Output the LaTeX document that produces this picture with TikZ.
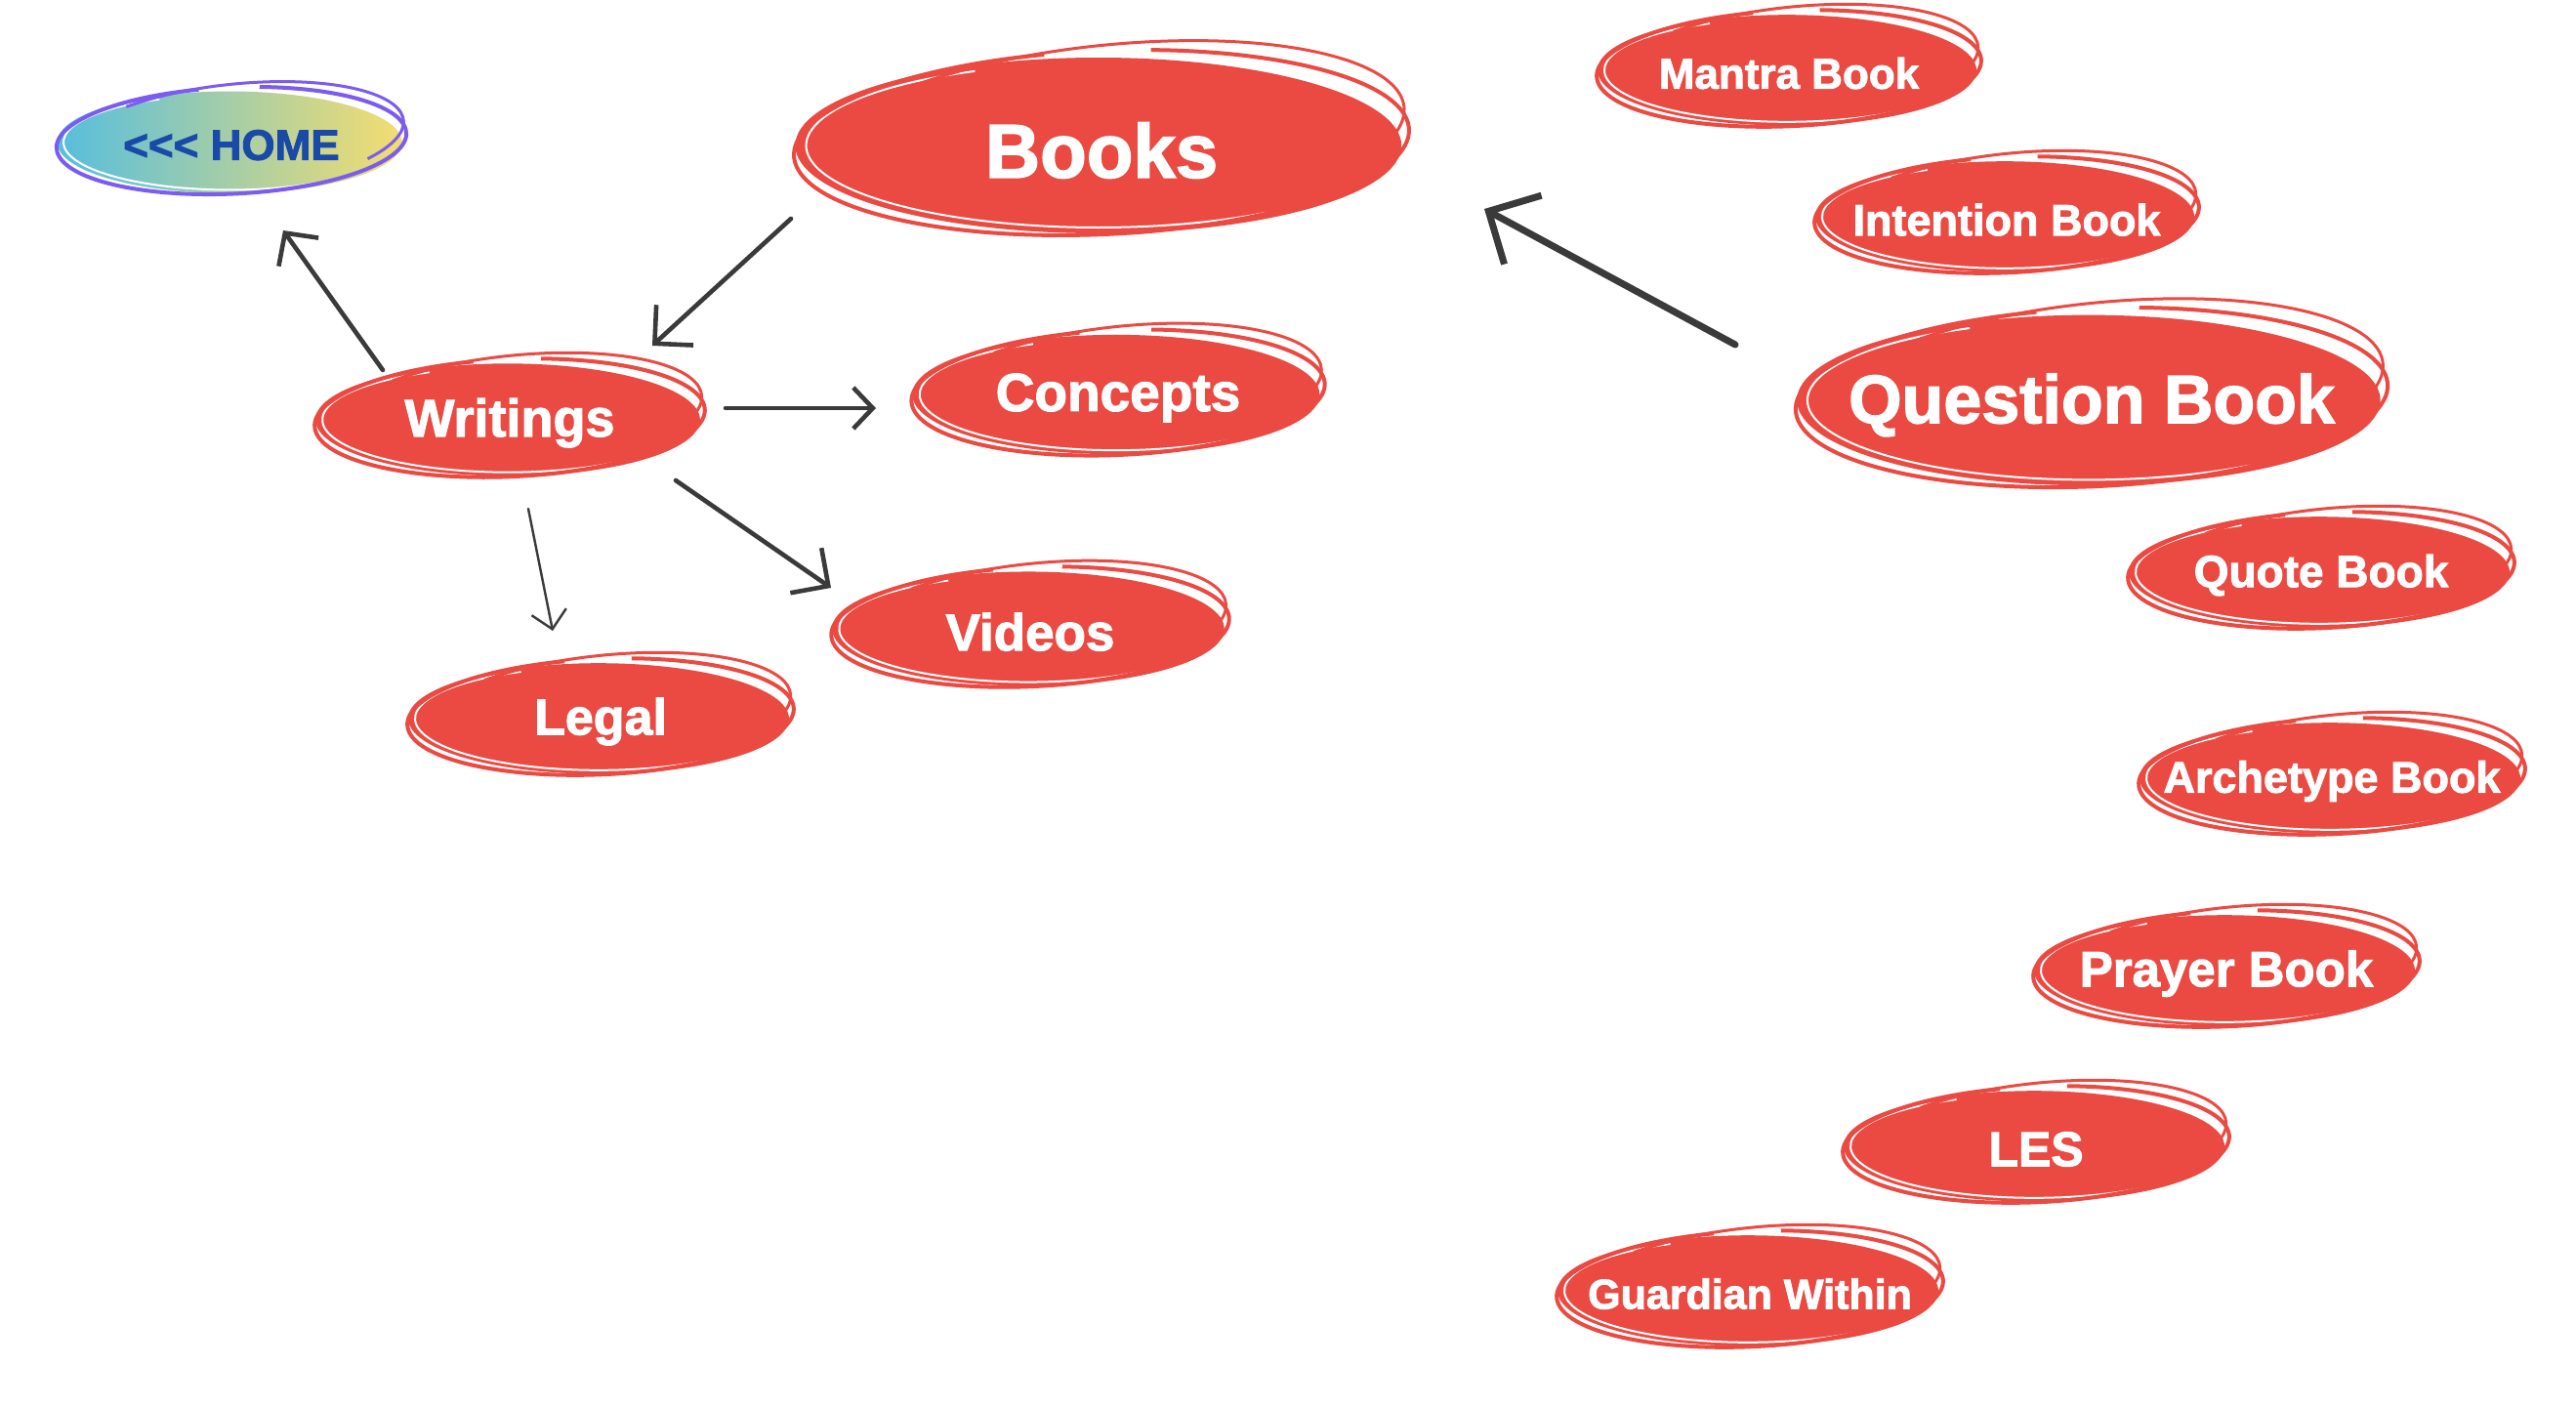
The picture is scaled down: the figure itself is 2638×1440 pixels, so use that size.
\documentclass[tikz,border=0pt]{standalone}
\usepackage{fontspec}
\setmainfont{Liberation Sans}[BoldFeatures={FakeBold=2}]
\usetikzlibrary{arrows.meta,calc,shapes.geometric}
\definecolor{bubred}{RGB}{234,74,66}
\definecolor{homepurple}{RGB}{124,92,240}
\definecolor{homecyan}{RGB}{86,190,222}
\definecolor{homeyellow}{RGB}{244,221,112}
\definecolor{homeblue}{RGB}{26,74,168}
\definecolor{arrowgray}{RGB}{58,58,58}
\tikzset{
  bubnode/.style={ellipse, inner sep=0pt, draw=none},
  bubtext/.style={text=white, inner sep=0pt},
  conn/.style={draw=arrowgray, line cap=round, line join=round},
}
% #1 name, #2 cx, #3 cy (screen px), #4 rx, #5 ry, #6 stroke colour, #7 fill options, #8 font size, #9 text
\newcommand\sketchbub[9]{%
  \begin{scope}[shift={(#2,-#3)}]
    \path[#7] (-0.01*#4,-0.03*#5) ellipse [x radius=0.97*#4, y radius=0.9*#5];
    \draw[white, line width=1pt] ({-0.01*#4+0.935*#4*cos(115)},{-0.03*#5+0.84*#5*sin(115)})
      arc [start angle=115, end angle=305, x radius=0.935*#4, y radius=0.84*#5];
    \draw[#6, line width=2pt, rotate=2.5] ({0.985*#4*cos(100)},{0.94*#5*sin(100)})
      arc [start angle=100, end angle=440, x radius=0.985*#4, y radius=0.94*#5];
    \draw[#6, line width=1.5pt, rotate=6] ({0.02*#4+0.955*#4*cos(128)},{0.04*#5+0.95*#5*sin(128)})
      arc [start angle=128, end angle=-40, x radius=0.955*#4, y radius=0.95*#5];
  \end{scope}
  \node[bubnode, minimum width={#4pt}, minimum height={#5pt}] (#1) at (#2,-#3) {};
  \node[bubtext, font=\bfseries\fontsize{#8}{#8}\selectfont] at (#2,{-#3-0.08*#5}) {#9};
}
\begin{document}
\begin{tikzpicture}[x=0.5pt,y=0.5pt]
\fill[white] (0,0) rectangle (2638,-1440);
\useasboundingbox (0,0) rectangle (2638,-1440);

\sketchbub{home}{237}{144}{182}{58}{homepurple}{left color=homecyan, right color=homeyellow}{22}{\color{homeblue}<\kern0pt<\kern0pt< HOME}
\sketchbub{books}{1128}{146}{320}{100}{bubred}{fill=bubred}{39}{Books}
\sketchbub{writings}{522}{428}{203}{64}{bubred}{fill=bubred}{27}{Writings}
\sketchbub{concepts}{1145}{402}{215}{68}{bubred}{fill=bubred}{27.5}{Concepts}
\sketchbub{videos}{1055}{642}{207}{65}{bubred}{fill=bubred}{26.5}{Videos}
\sketchbub{legal}{615}{734}{201}{63}{bubred}{fill=bubred}{26}{Legal}
\sketchbub{mantra}{1832}{70}{200}{63}{bubred}{fill=bubred}{22}{Mantra Book}
\sketchbub{intention}{2055}{220}{200}{63}{bubred}{fill=bubred}{22.5}{Intention Book}
\sketchbub{question}{2142}{407}{308}{97}{bubred}{fill=bubred}{35}{Question Book}
\sketchbub{quote}{2377}{584}{201}{63}{bubred}{fill=bubred}{23}{Quote Book}
\sketchbub{archetype}{2388}{795}{201}{63}{bubred}{fill=bubred}{22.5}{Archetype Book}
\sketchbub{prayer}{2280}{992}{201}{63}{bubred}{fill=bubred}{25.5}{Prayer Book}
\sketchbub{les}{2085}{1172}{201}{63}{bubred}{fill=bubred}{25}{LES}
\sketchbub{guardian}{1792}{1320}{201}{63}{bubred}{fill=bubred}{21.5}{Guardian Within}

\draw[conn, line width=2.3pt, -{Straight Barb[length=12pt,width=25pt]}]
  ($(writings.center)+(-130,49)$) -- ($(home.center)+(53,-92)$);
\draw[conn, line width=2.3pt, -{Straight Barb[length=14pt,width=28pt]}]
  ($(books.center)+(-318,-78)$) -- ($(writings.center)+(146,74)$);
\draw[conn, line width=2.3pt, -{Straight Barb[length=10pt,width=21pt]}]
  ($(writings.center)+(221,10)$) -- ($(concepts.center)+(-248,-16)$);
\draw[conn, line width=2.3pt, -{Straight Barb[length=14pt,width=28pt]}]
  ($(writings.center)+(170,-64)$) -- ($(videos.center)+(-204,40)$);
\draw[conn, line width=1.2pt, -{Straight Barb[length=9pt,width=18pt]}]
  ($(writings.center)+(19,-93)$) -- ($(legal.center)+(-49,88)$);
\draw[conn, line width=3.5pt, -{Straight Barb[length=20pt,width=40pt]}]
  ($(question.center)+(-365,54)$) -- ($(books.center)+(392,-68)$);
\end{tikzpicture}
\end{document}
